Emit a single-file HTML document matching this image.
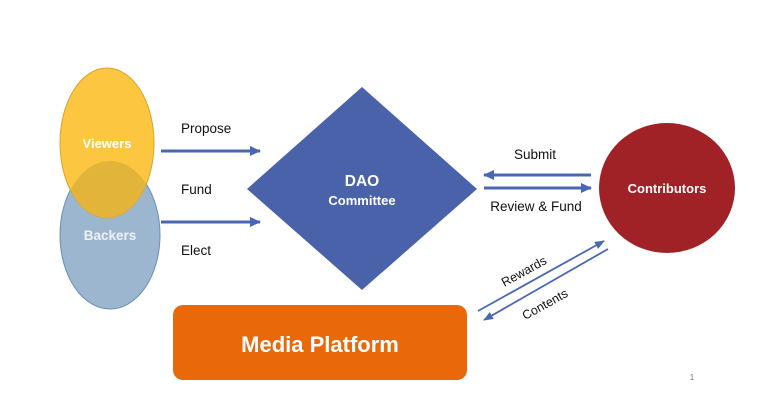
<!DOCTYPE html>
<html><head><meta charset="utf-8"><style>
html,body{margin:0;padding:0;background:#fff;}
svg{display:block;font-family:"Liberation Sans",sans-serif;}
</style></head><body>
<svg width="759" height="407" viewBox="0 0 759 407">
<defs>
<marker id="ah" markerWidth="11" markerHeight="10" refX="10" refY="5" orient="auto" markerUnits="userSpaceOnUse">
<path d="M0,0 L11,5 L0,10 z" fill="#4a67b4"/></marker>
<marker id="as" markerWidth="10" markerHeight="8" refX="9" refY="4" orient="auto" markerUnits="userSpaceOnUse">
<path d="M0,0 L10,4 L0,8 z" fill="#4a67b4"/></marker>
<clipPath id="vc"><ellipse cx="107" cy="143" rx="47" ry="75"/></clipPath>
</defs>
<ellipse cx="110" cy="235" rx="50" ry="74" fill="#9cb6cf" stroke="#6a8fb8" stroke-width="1"/>
<ellipse cx="107" cy="143" rx="47" ry="75" fill="#fcc640" stroke="#d9a52a" stroke-width="1"/>
<ellipse cx="110" cy="235" rx="50" ry="74" fill="#e3b43a" clip-path="url(#vc)"/>
<text x="107" y="148" text-anchor="middle" font-size="13" font-weight="bold" fill="#fff">Viewers</text>
<text x="110" y="240" text-anchor="middle" font-size="13.5" font-weight="bold" fill="#eef2f7">Backers</text>
<line x1="161" y1="151" x2="260" y2="151" stroke="#4a67b4" stroke-width="3" marker-end="url(#ah)"/>
<line x1="161" y1="222" x2="260" y2="222" stroke="#4a67b4" stroke-width="3" marker-end="url(#ah)"/>
<text x="181" y="133" font-size="13.5" fill="#111">Propose</text>
<text x="181" y="194" font-size="13.5" fill="#111">Fund</text>
<text x="181" y="255" font-size="13.5" fill="#111">Elect</text>
<polygon points="247,189 362,87 477,189 362,290" fill="#4a62a9"/>
<text x="362" y="186" text-anchor="middle" font-size="15.5" font-weight="bold" fill="#fff">DAO</text>
<text x="362" y="205" text-anchor="middle" font-size="13" font-weight="bold" fill="#fff">Committee</text>
<line x1="591" y1="175" x2="484" y2="175" stroke="#4a67b4" stroke-width="3" marker-end="url(#ah)"/>
<line x1="484" y1="188" x2="591" y2="188" stroke="#4a67b4" stroke-width="3" marker-end="url(#ah)"/>
<text x="535" y="159" text-anchor="middle" font-size="13.5" fill="#111">Submit</text>
<text x="536" y="211" text-anchor="middle" font-size="13.5" fill="#111">Review &amp; Fund</text>
<ellipse cx="667" cy="188" rx="68" ry="65" fill="#a02226"/>
<text x="667" y="193" text-anchor="middle" font-size="13" font-weight="bold" fill="#fff">Contributors</text>
<line x1="478" y1="311" x2="604" y2="241" stroke="#4a67b4" stroke-width="1.8" marker-end="url(#as)"/>
<line x1="608" y1="249" x2="484" y2="320" stroke="#4a67b4" stroke-width="1.8" marker-end="url(#as)"/>
<text transform="translate(526,275) rotate(-29)" text-anchor="middle" font-size="12.5" fill="#111">Rewards</text>
<text transform="translate(547,308) rotate(-29)" text-anchor="middle" font-size="12.5" fill="#111">Contents</text>
<rect x="173" y="305" width="294" height="75" rx="10" fill="#e8680a"/>
<text x="320" y="352" text-anchor="middle" font-size="22" font-weight="bold" fill="#fff">Media Platform</text>
<text x="692" y="380" text-anchor="middle" font-size="8" fill="#777">1</text>
</svg>
</body></html>
